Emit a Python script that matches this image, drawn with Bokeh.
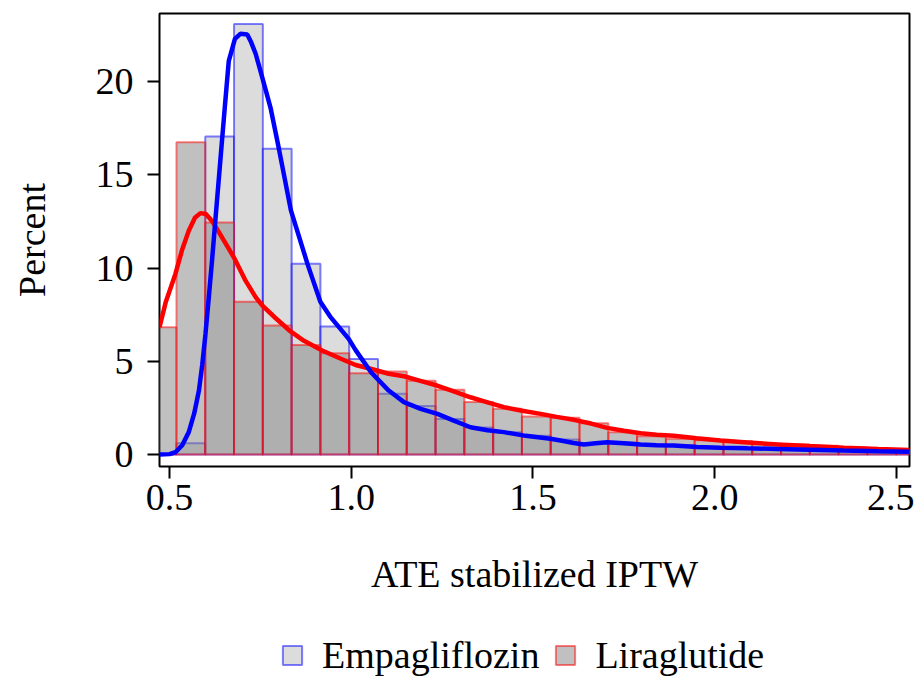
from bokeh.plotting import figure
from bokeh.layouts import column
from bokeh.models import Range1d, FixedTicker, Legend, LegendItem, PrintfTickFormatter
from bokeh.embed import file_html
from bokeh.resources import INLINE

# ---- data ----
bin_centers = [0.4796, 0.5588, 0.6380, 0.7172, 0.7964, 0.8756, 0.9548, 1.0340, 1.1132,
               1.1924, 1.2716, 1.3508, 1.4300, 1.5092, 1.5884, 1.6676, 1.7468, 1.8260,
               1.9052, 1.9844, 2.0636, 2.1428, 2.2220, 2.3012, 2.3804, 2.4596, 2.5388]
bin_width = 0.0792

empa_pct = [0.0, 0.6, 17.06, 23.1, 16.4, 10.23, 6.87, 5.13, 3.26, 2.6, 1.91, 1.45, 1.2,
            1.0, 0.8, 0.6, 0.65, 0.55, 0.5, 0.4, 0.35, 0.3, 0.28, 0.22, 0.2, 0.17, 0.15]
lira_pct = [6.83, 16.75, 12.45, 8.2, 6.92, 5.88, 5.43, 4.36, 4.45, 3.95, 3.47, 2.81, 2.45,
            2.04, 1.97, 1.68, 1.2, 0.98, 0.84, 0.77, 0.73, 0.61, 0.54, 0.47, 0.39, 0.3, 0.25]

lira_kde_x = [0.4725, 0.4900, 0.5165, 0.5350, 0.553, 0.570, 0.585, 0.600, 0.618, 0.640,
              0.677, 0.710, 0.737, 0.755, 0.790, 0.830, 0.870, 0.920, 0.970, 1.012, 1.053,
              1.103, 1.145, 1.190, 1.236, 1.280, 1.328, 1.375, 1.420, 1.470, 1.521, 1.565,
              1.612, 1.660, 1.704, 1.750, 1.796, 1.840, 1.887, 1.950, 2.016, 2.090, 2.172,
              2.260, 2.355, 2.450, 2.536]
lira_kde_y = [6.83, 8.2, 9.7, 11.0, 12.0, 12.7, 12.95, 12.9, 12.5, 11.8, 10.58, 9.3, 8.44,
              8.0, 7.35, 6.65, 6.1, 5.58, 5.15, 4.8, 4.6, 4.33, 4.2, 3.95, 3.7, 3.4, 3.07,
              2.8, 2.54, 2.35, 2.18, 2.02, 1.86, 1.66, 1.43, 1.27, 1.14, 1.06, 1.0, 0.87,
              0.75, 0.64, 0.54, 0.45, 0.36, 0.29, 0.24]

empa_kde_x = [0.4725, 0.500, 0.5165, 0.535, 0.553, 0.568, 0.581, 0.590, 0.599, 0.608, 0.617,
              0.628, 0.640, 0.652, 0.663, 0.680, 0.695, 0.714, 0.725, 0.737, 0.750, 0.764,
              0.778, 0.801, 0.834, 0.880, 0.915, 0.942, 0.993, 1.012, 1.055, 1.103, 1.145,
              1.191, 1.237, 1.282, 1.328, 1.375, 1.420, 1.480, 1.548, 1.576, 1.612, 1.640,
              1.672, 1.704, 1.750, 1.796, 1.840, 1.887, 1.952, 2.016, 2.090, 2.172, 2.260,
              2.354, 2.450, 2.536]
empa_kde_y = [0.0, 0.02, 0.12, 0.5, 1.2, 2.2, 3.43, 4.8, 6.47, 8.4, 10.4, 13.0, 15.8, 18.6,
              21.1, 22.3, 22.57, 22.53, 22.1, 21.5, 20.6, 19.6, 18.6, 16.4, 13.1, 10.2, 8.2,
              7.4, 6.2, 5.6, 4.4, 3.43, 2.81, 2.45, 2.18, 1.82, 1.46, 1.3, 1.2, 1.0, 0.84,
              0.75, 0.62, 0.54, 0.6, 0.66, 0.6, 0.54, 0.5, 0.48, 0.4, 0.36, 0.33, 0.3, 0.26,
              0.22, 0.18, 0.15]

x_ticks = [0.5, 1.0, 1.5, 2.0, 2.5]
y_ticks = [0, 5, 10, 15, 20]
series_names = ["Empagliflozin", "Liraglutide"]

FONT = "Liberation Serif"
FS = "38px"

EMPA_STYLE = dict(fill_color="#b9b9b9", fill_alpha=0.5, line_color="blue", line_alpha=0.5, line_width=2)
LIRA_STYLE = dict(fill_color="#818181", fill_alpha=0.5, line_color="red", line_alpha=0.5, line_width=2)

p = figure(width=914, height=612, output_backend="svg", toolbar_location=None,
           x_range=Range1d(0.4725, 2.5358), y_range=Range1d(-0.644, 23.66),
           min_border_left=159, min_border_right=5, min_border_top=13, min_border_bottom=146)
p.background_fill_color = "white"
p.border_fill_color = "white"
p.grid.visible = False
p.outline_line_color = "black"
p.outline_line_width = 2

lefts = [c - bin_width / 2 for c in bin_centers]
rights = [c + bin_width / 2 for c in bin_centers]

p.quad(left=lefts, right=rights, bottom=0, top=empa_pct, **EMPA_STYLE)
p.quad(left=lefts, right=rights, bottom=0, top=lira_pct, **LIRA_STYLE)

p.line(lira_kde_x, lira_kde_y, line_color="red", line_width=4.5)
p.line(empa_kde_x, empa_kde_y, line_color="blue", line_width=4.5)

for ax in (p.xaxis[0], p.yaxis[0]):
    ax.axis_line_color = None
    ax.major_tick_line_color = "black"
    ax.major_tick_line_width = 2
    ax.major_tick_in = 0
    ax.major_tick_out = 12
    ax.minor_tick_line_color = None
    ax.major_label_text_font = FONT
    ax.major_label_text_font_size = FS
    ax.major_label_text_color = "black"
    ax.axis_label_text_font = FONT
    ax.axis_label_text_font_size = FS
    ax.axis_label_text_font_style = "normal"
    ax.axis_label_text_color = "black"

p.xaxis.ticker = FixedTicker(ticks=x_ticks)
p.xaxis.formatter = PrintfTickFormatter(format="%.1f")
p.yaxis.ticker = FixedTicker(ticks=y_ticks)
p.xaxis.axis_label = "ATE stabilized IPTW"
p.yaxis.axis_label = "Percent"
p.xaxis.major_label_standoff = 6
p.xaxis.axis_label_standoff = 40
p.yaxis.major_label_standoff = 14
p.yaxis.axis_label_standoff = 40

# legend strip below the chart (its quads sit outside its visible range; only the legend shows)
pl = figure(width=914, height=67, output_backend="svg", toolbar_location=None,
            x_axis_type=None, y_axis_type=None, x_range=Range1d(10, 11), y_range=Range1d(100, 101),
            min_border_left=0, min_border_right=0, min_border_top=0, min_border_bottom=0)
pl.grid.visible = False
pl.outline_line_color = None
pl.background_fill_color = "white"
pl.border_fill_color = "white"
g_empa = pl.quad(left=lefts, right=rights, bottom=0, top=empa_pct, **EMPA_STYLE)
g_lira = pl.quad(left=lefts, right=rights, bottom=0, top=lira_pct, **LIRA_STYLE)
legend = Legend(items=[LegendItem(label=series_names[0], renderers=[g_empa], index=2),
                       LegendItem(label=series_names[1], renderers=[g_lira], index=2)],
                orientation="horizontal", location=(121, 2),
                label_text_font=FONT, label_text_font_size=FS, label_text_color="black",
                glyph_width=24, glyph_height=24, label_standoff=18, spacing=14,
                border_line_color=None, background_fill_alpha=0,
                margin=0, padding=0)
pl.add_layout(legend)

layout = column(p, pl, spacing=0)
open("out.html", "w").write(file_html(layout, INLINE))
